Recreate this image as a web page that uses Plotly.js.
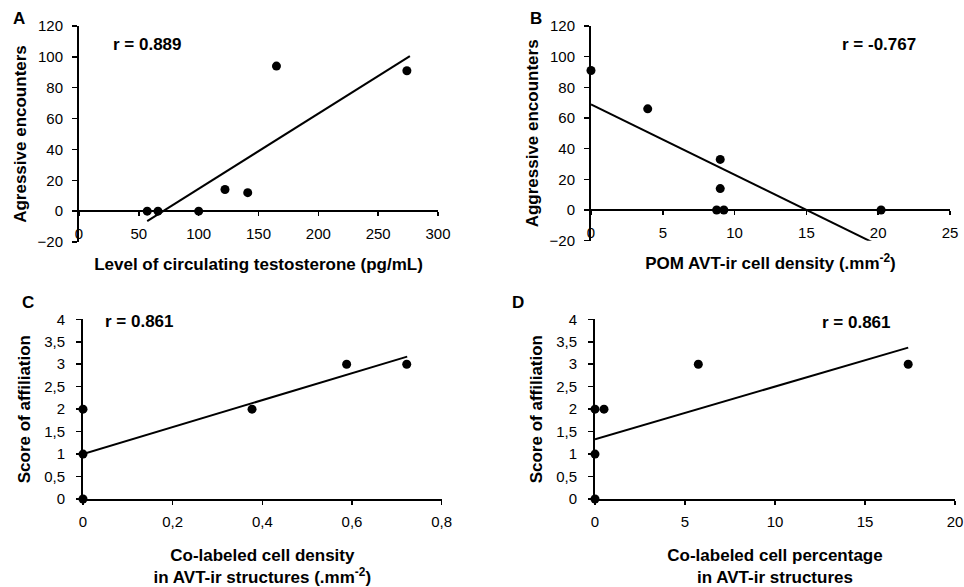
<!DOCTYPE html>
<html><head><meta charset="utf-8">
<script src="https://cdn.plot.ly/plotly-3.0.1.min.js"></script>
<style>html,body{margin:0;padding:0;background:#fff}#chart{width:964px;height:587px}</style>
</head><body><div id="chart"></div>
<script>
// Panel A: testosterone vs aggressive encounters
const testosteroneA = [57, 66, 100, 122, 141, 165, 274];
const aggressionA = [0, 0, 0, 14, 12, 94, 91];
const fitA_x = [57, 276.5];
const fitA_y = [-6.5, 100.5];
// Panel B: POM AVT-ir cell density vs aggressive encounters
const densityB = [0, 3.95, 9, 9, 8.75, 9.25, 20.2];
const aggressionB = [91, 66, 33, 14, 0, 0, 0];
const fitB_x = [0, 20.2];
const fitB_y = [68.9, -23.8];
// Panel C: co-labeled cell density vs affiliation
const coDensityC = [0, 0, 0, 0.377, 0.588, 0.722];
const affiliationC = [0, 1, 2, 2, 3, 3];
const fitC_x = [0, 0.723];
const fitC_y = [1.0, 3.17];
// Panel D: co-labeled cell percentage vs affiliation
const coPercentD = [0, 0, 0, 0.5, 5.74, 17.4];
const affiliationD = [0, 1, 2, 2, 3, 3];
const fitD_x = [0, 17.4];
const fitD_y = [1.33, 3.37];

const panelLetters = ['A', 'B', 'C', 'D'];
const rLabels = ['r = 0.889', 'r = -0.767', 'r = 0.861', 'r = 0.861'];

const W = 964, H = 587;
function dX(a, b) { return [a / W, b / W]; }
function dY(top, bottom) { return [1 - bottom / H, 1 - top / H]; }
function zeroPos(dom, rng) { return dom[0] + (0 - rng[0]) / (rng[1] - rng[0]) * (dom[1] - dom[0]); }

const FONT = 'Liberation Sans, Arial, sans-serif';
const tickFont = {family: FONT, size: 15, color: '#000'};
const titleFont = {family: FONT, size: 17, color: '#000', weight: 'bold'};

function axBase(extra) {
  return Object.assign({
    showline: true, linecolor: '#000', linewidth: 2,
    ticks: 'outside', ticklen: 5, tickwidth: 1.5, tickcolor: '#000',
    showgrid: false, zeroline: false, tickfont: tickFont, automargin: false
  }, extra);
}

const yDomA = dY(26, 242), yRngA = [-20, 120];
const yDomB = dY(26, 240.7), yRngB = [-20, 120];
const yDomC = dY(319.3, 499), yRngC = [0, 4];
const yDomD = dY(319.3, 499), yRngD = [0, 4];

const layout = {
  width: W, height: H,
  margin: {l: 0, r: 0, t: 0, b: 0},
  paper_bgcolor: '#fff', plot_bgcolor: 'rgba(0,0,0,0)',
  showlegend: false,
  separators: ', ',
  font: {family: FONT, color: '#000'},
  xaxis: axBase({domain: dX(79, 438), range: [0, 300], dtick: 50, anchor: 'free',
    position: zeroPos(yDomA, yRngA), ticklen: 4, ticklabelstandoff: 5,
    title: {text: 'Level of circulating testosterone (pg/mL)', font: titleFont, standoff: 16}}),
  yaxis: axBase({domain: yDomA, range: yRngA, dtick: 20, anchor: 'x', ticklabelstandoff: 6,
    title: {text: 'Agressive encounters', font: titleFont, standoff: 7}}),
  xaxis2: axBase({domain: dX(591, 950), range: [0, 25], dtick: 5, anchor: 'free',
    position: zeroPos(yDomB, yRngB), ticklen: 4, ticklabelstandoff: 5,
    title: {text: 'POM AVT-ir cell density (.mm<sup>-2</sup>)', font: titleFont, standoff: 16}}),
  yaxis2: axBase({domain: yDomB, range: yRngB, dtick: 20, anchor: 'x2', ticklabelstandoff: 6,
    title: {text: 'Aggressive encounters', font: titleFont, standoff: 7}}),
  xaxis3: axBase({domain: dX(83, 441.7), range: [0, 0.8], dtick: 0.2, anchor: 'y3',
    ticklen: 4, ticklabelstandoff: 4,
    title: {text: 'Co-labeled cell density<br>in AVT-ir structures (.mm<sup>-2</sup>)', font: titleFont, standoff: 20}}),
  yaxis3: axBase({domain: yDomC, range: yRngC, dtick: 0.5, anchor: 'x3', ticklabelstandoff: 8,
    title: {text: 'Score of affiliation', font: titleFont, standoff: 9}}),
  xaxis4: axBase({domain: dX(595, 955), range: [0, 20], dtick: 5, anchor: 'y4',
    ticklen: 4, ticklabelstandoff: 4,
    title: {text: 'Co-labeled cell percentage<br>in AVT-ir structures', font: titleFont, standoff: 20}}),
  yaxis4: axBase({domain: yDomD, range: yRngD, dtick: 0.5, anchor: 'x4', ticklabelstandoff: 8,
    title: {text: 'Score of affiliation', font: titleFont, standoff: 9}}),
  annotations: []
};

const letterPos = [[18.5, 18.5], [536, 18.5], [27.5, 302.5], [517.5, 302.5]];
const rPos = [[147.5, 44.5], [878.5, 44.5], [139, 321], [856, 322]];
panelLetters.forEach((t, i) => layout.annotations.push({
  text: t, xref: 'paper', yref: 'paper', x: letterPos[i][0] / W, y: 1 - letterPos[i][1] / H,
  xanchor: 'center', yanchor: 'middle', showarrow: false,
  font: {family: FONT, size: 17, color: '#000', weight: 'bold'}
}));
rLabels.forEach((t, i) => layout.annotations.push({
  text: t, xref: 'paper', yref: 'paper', x: rPos[i][0] / W, y: 1 - rPos[i][1] / H,
  xanchor: 'center', yanchor: 'middle', showarrow: false,
  font: {family: FONT, size: 17, color: '#000', weight: 'bold'}
}));

function pts(x, y, ax) {
  return {x: x, y: y, xaxis: 'x' + ax, yaxis: 'y' + ax, type: 'scatter', mode: 'markers',
    marker: {color: '#000', size: 9}, cliponaxis: false, hoverinfo: 'x+y'};
}
function fit(x, y, ax) {
  return {x: x, y: y, xaxis: 'x' + ax, yaxis: 'y' + ax, type: 'scatter', mode: 'lines',
    line: {color: '#000', width: 2}, cliponaxis: true, hoverinfo: 'skip'};
}

const data = [
  fit(fitA_x, fitA_y, ''), pts(testosteroneA, aggressionA, ''),
  fit(fitB_x, fitB_y, '2'), pts(densityB, aggressionB, '2'),
  fit(fitC_x, fitC_y, '3'), pts(coDensityC, affiliationC, '3'),
  fit(fitD_x, fitD_y, '4'), pts(coPercentD, affiliationD, '4')
];

Plotly.newPlot('chart', data, layout, {staticPlot: true});
</script>
</body></html>
